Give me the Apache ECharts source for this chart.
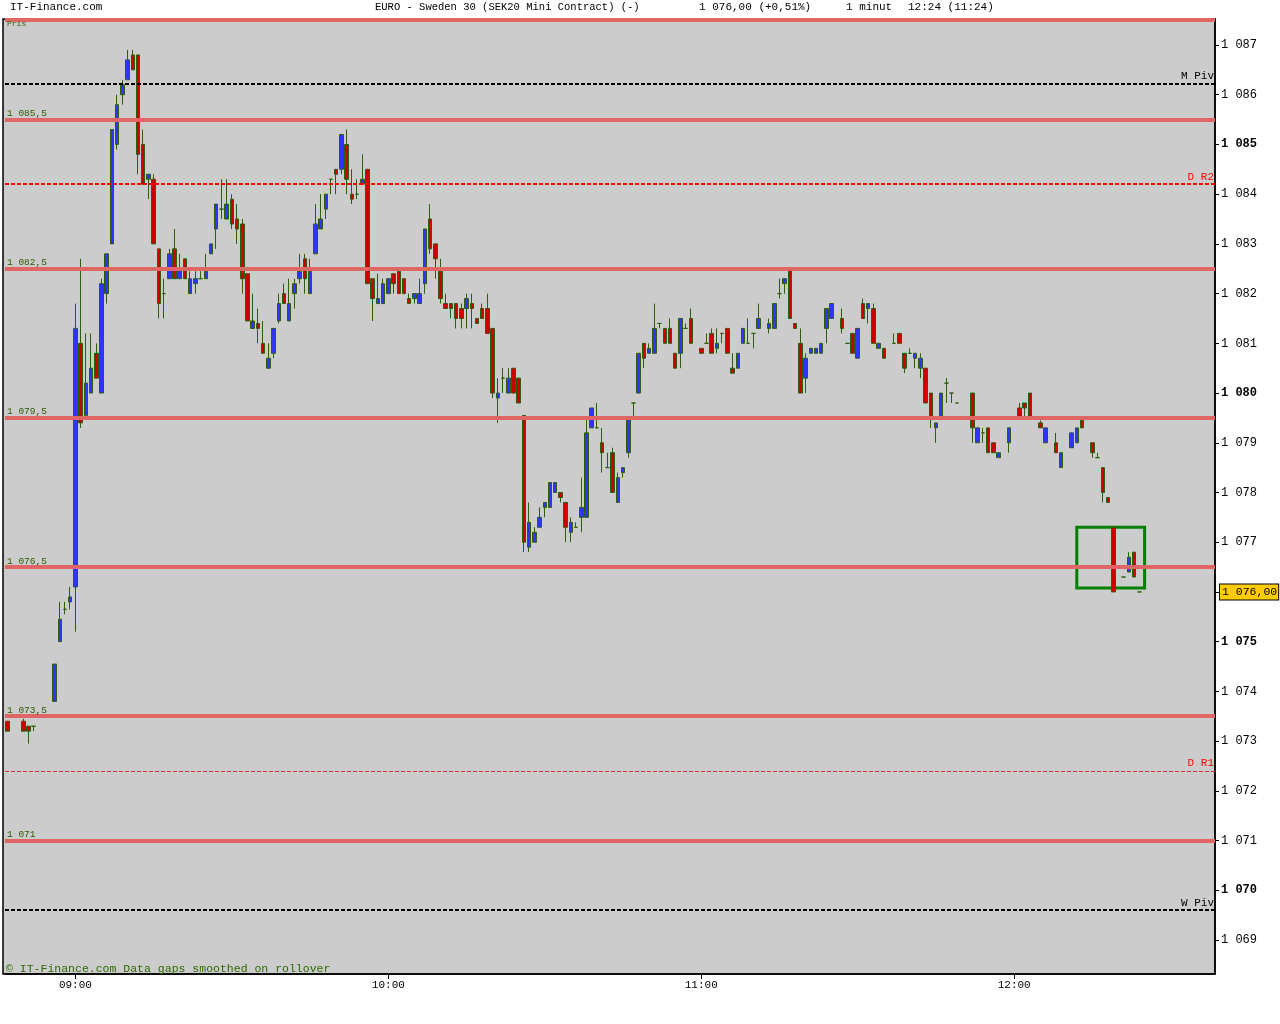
<!DOCTYPE html>
<html>
<head>
<meta charset="utf-8">
<title>EURO - Sweden 30</title>
<script src="https://cdn.jsdelivr.net/npm/echarts@6/dist/echarts.min.js"></script>
<style>
html, body { margin: 0; padding: 0; background: #ffffff; }
#chart { width: 1280px; height: 1024px; }
</style>
</head>
<body>
<div id="chart"></div>
<script>
// candles: [time, open, high, low, close]
var pre0900 = [
    ['08:47', 1073.4, 1073.4, 1073.2, 1073.2],
    ['08:50', 1073.4, 1073.45, 1073.2, 1073.2],
    ['08:51', 1073.3, 1073.3, 1072.95, 1073.2],
    ['08:52', 1073.3, 1073.3, 1073.2, 1073.3],
    ['08:56', 1073.8, 1074.55, 1073.8, 1074.55],
    ['08:57', 1075.0, 1075.8, 1075.0, 1075.45],
    ['08:58', 1075.65, 1075.8, 1075.55, 1075.65],
    ['08:59', 1075.8, 1076.1, 1075.65, 1075.9]
];
var hour09 = [
    ['09:00', 1076.1, 1081.8, 1075.2, 1081.3],
    ['09:01', 1081.0, 1082.7, 1079.3, 1079.4],
    ['09:02', 1079.55, 1081.2, 1079.55, 1080.2],
    ['09:03', 1080.0, 1081.2, 1080.0, 1080.5],
    ['09:04', 1080.8, 1081.0, 1080.3, 1080.3],
    ['09:05', 1080.0, 1082.3, 1080.0, 1082.2],
    ['09:06', 1082.0, 1082.8, 1081.8, 1082.8],
    ['09:07', 1083.0, 1085.3, 1083.0, 1085.3],
    ['09:08', 1085.0, 1086.0, 1084.9, 1085.8],
    ['09:09', 1086.0, 1086.3, 1085.8, 1086.2],
    ['09:10', 1086.3, 1086.9, 1086.3, 1086.7],
    ['09:11', 1086.8, 1086.9, 1086.5, 1086.5],
    ['09:12', 1086.8, 1086.8, 1084.4, 1084.8],
    ['09:13', 1085.0, 1085.3, 1084.2, 1084.2],
    ['09:14', 1084.3, 1084.4, 1083.9, 1084.4],
    ['09:15', 1084.3, 1084.4, 1083.0, 1083.0],
    ['09:16', 1082.9, 1082.9, 1081.5, 1081.8],
    ['09:17', 1082.0, 1082.3, 1081.5, 1082.0],
    ['09:18', 1082.3, 1082.9, 1082.3, 1082.8],
    ['09:19', 1082.9, 1083.3, 1082.3, 1082.3],
    ['09:20', 1082.3, 1082.8, 1082.3, 1082.5],
    ['09:21', 1082.7, 1082.7, 1082.3, 1082.3],
    ['09:22', 1082.0, 1082.45, 1082.0, 1082.3],
    ['09:23', 1082.2, 1082.45, 1082.0, 1082.3],
    ['09:24', 1082.3, 1082.45, 1082.3, 1082.3],
    ['09:25', 1082.3, 1082.8, 1082.3, 1082.45],
    ['09:26', 1082.8, 1083.0, 1082.8, 1083.0],
    ['09:27', 1083.3, 1083.8, 1082.9, 1083.8],
    ['09:28', 1083.7, 1084.3, 1083.5, 1083.7],
    ['09:29', 1083.5, 1084.3, 1083.5, 1083.8],
    ['09:30', 1083.9, 1084.0, 1083.3, 1083.4],
    ['09:31', 1083.5, 1083.8, 1083.0, 1083.3],
    ['09:32', 1083.4, 1083.5, 1082.0, 1082.3],
    ['09:33', 1082.4, 1082.4, 1081.45, 1081.45],
    ['09:34', 1081.3, 1082.0, 1081.3, 1081.45],
    ['09:35', 1081.4, 1081.7, 1081.0, 1081.3],
    ['09:36', 1081.0, 1081.45, 1080.8, 1080.8],
    ['09:37', 1080.5, 1081.0, 1080.5, 1080.7],
    ['09:38', 1080.8, 1081.3, 1080.7, 1081.3],
    ['09:39', 1081.45, 1082.0, 1081.4, 1081.8],
    ['09:40', 1082.0, 1082.2, 1081.8, 1081.8],
    ['09:41', 1081.45, 1082.3, 1081.45, 1081.8],
    ['09:42', 1082.0, 1082.3, 1081.7, 1082.2],
    ['09:43', 1082.3, 1082.8, 1082.2, 1082.45],
    ['09:44', 1082.7, 1082.8, 1082.0, 1082.3],
    ['09:45', 1082.0, 1082.7, 1082.0, 1082.45],
    ['09:46', 1082.8, 1083.8, 1082.8, 1083.4],
    ['09:47', 1083.3, 1084.0, 1083.3, 1083.5],
    ['09:48', 1083.7, 1084.0, 1083.5, 1084.0],
    ['09:49', 1084.3, 1084.3, 1084.0, 1084.3],
    ['09:50', 1084.5, 1084.5, 1084.0, 1084.4],
    ['09:51', 1084.5, 1085.2, 1084.4, 1085.2],
    ['09:52', 1085.0, 1085.3, 1084.0, 1084.3],
    ['09:53', 1084.0, 1084.5, 1083.8, 1083.9],
    ['09:54', 1084.0, 1084.3, 1083.9, 1084.0],
    ['09:55', 1084.2, 1084.8, 1084.2, 1084.3],
    ['09:56', 1084.5, 1084.5, 1082.2, 1082.2],
    ['09:57', 1082.3, 1082.3, 1081.45, 1081.9],
    ['09:58', 1081.8, 1082.4, 1081.8, 1081.9],
    ['09:59', 1081.8, 1082.3, 1081.8, 1082.2]
];
var hour10 = [
    ['10:00', 1082.0, 1082.3, 1082.0, 1082.3],
    ['10:01', 1082.4, 1082.4, 1082.0, 1082.2],
    ['10:02', 1082.45, 1082.5, 1082.0, 1082.0],
    ['10:03', 1082.3, 1082.3, 1082.0, 1082.0],
    ['10:04', 1081.9, 1082.0, 1081.8, 1081.8],
    ['10:05', 1081.9, 1082.0, 1081.8, 1082.0],
    ['10:06', 1081.8, 1082.3, 1081.8, 1082.0],
    ['10:07', 1082.2, 1083.3, 1082.0, 1083.3],
    ['10:08', 1083.5, 1083.8, 1082.8, 1082.9],
    ['10:09', 1083.0, 1083.0, 1082.3, 1082.7],
    ['10:10', 1082.45, 1082.7, 1081.8, 1081.9],
    ['10:11', 1081.8, 1082.0, 1081.7, 1081.7],
    ['10:12', 1081.8, 1081.8, 1081.5, 1081.7],
    ['10:13', 1081.8, 1081.8, 1081.3, 1081.5],
    ['10:14', 1081.7, 1081.8, 1081.3, 1081.5],
    ['10:15', 1081.7, 1082.0, 1081.3, 1081.9],
    ['10:16', 1081.8, 1082.0, 1081.3, 1081.7],
    ['10:17', 1081.5, 1081.5, 1081.4, 1081.4],
    ['10:18', 1081.7, 1081.8, 1081.5, 1081.5],
    ['10:19', 1081.7, 1082.0, 1081.2, 1081.2],
    ['10:20', 1081.3, 1081.3, 1079.9, 1080.0],
    ['10:21', 1079.9, 1080.3, 1079.4, 1080.0],
    ['10:22', 1080.3, 1080.5, 1080.0, 1080.3],
    ['10:23', 1080.0, 1080.5, 1080.0, 1080.3],
    ['10:24', 1080.5, 1080.5, 1080.0, 1080.0],
    ['10:25', 1080.3, 1080.3, 1079.8, 1079.8],
    ['10:26', 1079.55, 1079.55, 1076.8, 1077.0],
    ['10:27', 1076.9, 1077.8, 1076.8, 1077.4],
    ['10:28', 1077.0, 1077.3, 1077.0, 1077.2],
    ['10:29', 1077.3, 1077.7, 1077.3, 1077.5],
    ['10:30', 1077.7, 1077.8, 1077.5, 1077.8],
    ['10:31', 1077.7, 1078.2, 1077.7, 1078.2],
    ['10:32', 1078.0, 1078.2, 1078.0, 1078.2],
    ['10:33', 1078.0, 1078.0, 1077.8, 1077.9],
    ['10:34', 1077.8, 1077.8, 1077.0, 1077.3],
    ['10:35', 1077.2, 1077.5, 1077.0, 1077.4],
    ['10:36', 1077.3, 1077.4, 1077.3, 1077.3],
    ['10:37', 1077.5, 1078.3, 1077.2, 1077.7],
    ['10:38', 1077.5, 1079.5, 1077.5, 1079.2],
    ['10:39', 1079.3, 1079.7, 1079.3, 1079.7],
    ['10:40', 1079.3, 1079.8, 1079.3, 1079.3],
    ['10:41', 1079.0, 1079.3, 1078.4, 1078.8],
    ['10:42', 1078.5, 1078.8, 1078.5, 1078.5],
    ['10:43', 1078.8, 1078.9, 1078.0, 1078.0],
    ['10:44', 1077.8, 1078.4, 1077.8, 1078.3],
    ['10:45', 1078.4, 1078.5, 1078.3, 1078.5],
    ['10:46', 1078.8, 1079.5, 1078.7, 1079.5],
    ['10:47', 1079.8, 1079.8, 1079.5, 1079.8],
    ['10:48', 1080.0, 1080.8, 1080.0, 1080.8],
    ['10:49', 1081.0, 1081.0, 1080.5, 1080.7],
    ['10:50', 1080.8, 1081.0, 1080.8, 1080.9],
    ['10:51', 1080.8, 1081.8, 1080.8, 1081.3],
    ['10:52', 1081.4, 1081.4, 1081.3, 1081.4],
    ['10:53', 1081.3, 1081.3, 1081.0, 1081.0],
    ['10:54', 1081.3, 1081.5, 1081.0, 1081.0],
    ['10:55', 1080.8, 1080.8, 1080.5, 1080.5],
    ['10:56', 1080.8, 1081.5, 1080.5, 1081.5],
    ['10:57', 1081.3, 1081.4, 1081.3, 1081.3],
    ['10:58', 1081.5, 1081.7, 1081.0, 1081.0]
];
var hour11 = [
    ['11:00', 1080.9, 1080.9, 1080.8, 1080.8],
    ['11:01', 1081.0, 1081.2, 1081.0, 1081.0],
    ['11:02', 1081.2, 1081.3, 1080.8, 1080.8],
    ['11:03', 1080.9, 1081.3, 1080.8, 1081.0],
    ['11:04', 1081.2, 1081.2, 1081.0, 1081.2],
    ['11:05', 1081.3, 1081.3, 1080.8, 1080.8],
    ['11:06', 1080.5, 1080.8, 1080.4, 1080.4],
    ['11:07', 1080.5, 1080.8, 1080.5, 1080.8],
    ['11:08', 1081.0, 1081.3, 1081.0, 1081.3],
    ['11:09', 1081.0, 1081.5, 1081.0, 1081.0],
    ['11:10', 1081.2, 1081.2, 1080.9, 1081.2],
    ['11:11', 1081.3, 1081.8, 1081.3, 1081.5],
    ['11:13', 1081.3, 1081.5, 1081.2, 1081.4],
    ['11:14', 1081.3, 1081.8, 1081.3, 1081.8],
    ['11:15', 1082.0, 1082.3, 1081.9, 1082.0],
    ['11:16', 1082.2, 1082.3, 1082.0, 1082.3],
    ['11:17', 1082.5, 1082.5, 1081.5, 1081.5],
    ['11:18', 1081.4, 1081.4, 1081.3, 1081.3],
    ['11:19', 1081.0, 1081.3, 1080.0, 1080.0],
    ['11:20', 1080.3, 1080.8, 1080.0, 1080.7],
    ['11:21', 1080.8, 1080.9, 1080.8, 1080.9],
    ['11:22', 1080.8, 1080.9, 1080.8, 1080.9],
    ['11:23', 1080.8, 1081.0, 1080.8, 1081.0],
    ['11:24', 1081.3, 1081.7, 1081.0, 1081.7],
    ['11:25', 1081.5, 1081.8, 1081.5, 1081.8],
    ['11:27', 1081.5, 1081.7, 1081.2, 1081.3],
    ['11:28', 1081.0, 1081.0, 1081.0, 1081.0],
    ['11:29', 1081.2, 1081.2, 1080.8, 1080.8],
    ['11:30', 1080.7, 1081.3, 1080.7, 1081.3],
    ['11:31', 1081.8, 1081.9, 1081.5, 1081.5],
    ['11:32', 1081.7, 1081.8, 1081.4, 1081.8],
    ['11:33', 1081.7, 1081.8, 1081.0, 1081.0],
    ['11:34', 1080.9, 1081.0, 1080.9, 1081.0],
    ['11:35', 1080.9, 1080.9, 1080.7, 1080.7],
    ['11:37', 1081.0, 1081.2, 1081.0, 1081.0],
    ['11:38', 1081.2, 1081.2, 1081.0, 1081.0],
    ['11:39', 1080.8, 1080.8, 1080.4, 1080.5],
    ['11:40', 1080.8, 1080.9, 1080.8, 1080.8],
    ['11:41', 1080.7, 1080.8, 1080.5, 1080.8],
    ['11:42', 1080.5, 1080.8, 1080.3, 1080.7],
    ['11:43', 1080.5, 1080.5, 1079.8, 1079.8],
    ['11:44', 1080.0, 1080.0, 1079.3, 1079.5],
    ['11:45', 1079.3, 1079.4, 1079.0, 1079.4],
    ['11:46', 1079.5, 1080.0, 1079.5, 1080.0],
    ['11:47', 1080.2, 1080.3, 1079.8, 1080.2],
    ['11:48', 1080.0, 1080.0, 1079.8, 1080.0],
    ['11:49', 1079.8, 1079.8, 1079.8, 1079.8],
    ['11:52', 1080.0, 1080.0, 1079.0, 1079.3],
    ['11:53', 1079.0, 1079.3, 1079.0, 1079.3],
    ['11:54', 1079.2, 1079.3, 1079.0, 1079.2],
    ['11:55', 1079.3, 1079.3, 1078.8, 1078.8],
    ['11:56', 1079.0, 1079.0, 1078.8, 1078.8],
    ['11:57', 1078.7, 1078.8, 1078.7, 1078.8],
    ['11:59', 1079.0, 1079.3, 1078.8, 1079.3]
];
var hour12 = [
    ['12:01', 1079.7, 1079.8, 1079.5, 1079.5],
    ['12:02', 1079.8, 1079.8, 1079.5, 1079.7],
    ['12:03', 1080.0, 1080.0, 1079.5, 1079.5],
    ['12:05', 1079.4, 1079.45, 1079.3, 1079.3],
    ['12:06', 1079.0, 1079.3, 1079.0, 1079.3],
    ['12:08', 1079.0, 1079.2, 1078.8, 1078.8],
    ['12:09', 1078.5, 1078.8, 1078.5, 1078.8],
    ['12:11', 1078.9, 1079.2, 1078.9, 1079.2],
    ['12:12', 1079.0, 1079.3, 1079.0, 1079.3],
    ['12:13', 1079.45, 1079.45, 1079.3, 1079.3],
    ['12:15', 1079.0, 1079.0, 1078.7, 1078.8],
    ['12:16', 1078.7, 1078.8, 1078.7, 1078.7],
    ['12:17', 1078.5, 1078.5, 1077.8, 1078.0],
    ['12:18', 1077.9, 1077.9, 1077.8, 1077.8],
    ['12:19', 1077.3, 1077.3, 1076.0, 1076.0],
    ['12:21', 1076.3, 1076.3, 1076.3, 1076.3],
    ['12:22', 1076.4, 1076.8, 1076.4, 1076.7],
    ['12:23', 1076.8, 1076.8, 1076.3, 1076.3],
    ['12:24', 1076.0, 1076.0, 1076.0, 1076.0]
];

// horizontal levels
var bandLevels = [1087.5, 1085.5, 1082.5, 1079.5, 1076.5, 1073.5, 1071];
var pivotNames = ['M Piv', 'D R2', 'D R1', 'W Piv'];
var pivotValues = [1086.23, 1084.2, 1072.4, 1069.6];
var pivotColors = ['#000000', '#ff0000', '#e03030', '#000000'];
var pivotWidths = [2, 2, 1, 2];
var yTickValues = [1069, 1070, 1071, 1072, 1073, 1074, 1075, 1076, 1077, 1078,
    1079, 1080, 1081, 1082, 1083, 1084, 1085, 1086, 1087];
var lastPrice = 1076.0;
var boxFrom = ['12:12', 1077.3];
var boxTo = ['12:25', 1076.08];

var MONO = '"Liberation Mono", "DejaVu Sans Mono", monospace';

// minute categories 08:47 .. 12:38
function pad(n) { return (n < 10 ? '0' : '') + n; }
var minutes = [];
for (var m = 8 * 60 + 47; m <= 12 * 60 + 38; m++) {
    minutes.push(pad(Math.floor(m / 60)) + ':' + pad(m % 60));
}
var byTime = {};
pre0900.concat(hour09, hour10, hour11, hour12).forEach(function (r) {
    byTime[r[0]] = [r[1], r[4], r[3], r[2]]; // open, close, low, high
});
var candleData = minutes.map(function (t) {
    return byTime[t] || ['-', '-', '-', '-'];
});

function fmtPx(v, dec) {
    var s = v.toFixed(dec).replace('.', ',');
    return s.replace(/^(\d)(\d{3})/, '$1 $2');
}

var lineData = [];
bandLevels.forEach(function (v, i) {
    lineData.push({
        yAxis: v,
        lineStyle: { color: '#e06565', width: 4, type: 'solid' },
        label: {
            show: i > 0,
            position: 'insideStartTop',
            distance: [2, 1],
            formatter: fmtPx(v, v % 1 ? 1 : 0),
            color: '#2e5a00',
            fontFamily: MONO,
            fontSize: 9.5
        }
    });
});
pivotValues.forEach(function (v, i) {
    lineData.push({
        yAxis: v,
        lineStyle: { color: pivotColors[i], width: pivotWidths[i], type: [4, 2] },
        label: {
            show: true,
            position: 'insideEndTop',
            distance: [1, 2],
            formatter: pivotNames[i],
            color: pivotColors[i] === '#000000' ? '#000000' : '#ff0000',
            fontFamily: MONO,
            fontSize: 11
        }
    });
});

// last price tag on the right axis
var priceTag = [{
    yAxis: lastPrice,
    lineStyle: { color: 'rgba(0,0,0,0)', width: 0 },
    label: {
        show: true,
        position: 'end',
        distance: 5,
        formatter: fmtPx(lastPrice, 2),
        color: '#000000',
        backgroundColor: '#ffcc00',
        borderColor: '#000000',
        borderWidth: 1,
        padding: [2, 1, 1, 2],
        fontFamily: MONO,
        fontSize: 11.5
    }
}];

var chart = echarts.init(document.getElementById('chart'));
chart.setOption({
    animation: false,
    backgroundColor: '#ffffff',
    graphic: [
        {
            type: 'rect', z: -10,
            shape: { x: 3, y: 19, width: 1212, height: 955 },
            style: { fill: '#cccccc', stroke: '#000000', lineWidth: 1.5 }
        },
        { type: 'text', left: 10, top: 2, style: { text: 'IT-Finance.com', font: '11px ' + MONO, fill: '#000' } },
        { type: 'text', left: 375, top: 2, style: { text: 'EURO - Sweden 30 (SEK20 Mini Contract) (-)', font: '10.5px ' + MONO, fill: '#000' } },
        { type: 'text', left: 699, top: 2, style: { text: '1 076,00 (+0,51%)', font: '11px ' + MONO, fill: '#000' } },
        { type: 'text', left: 846, top: 2, style: { text: '1 minut', font: '11px ' + MONO, fill: '#000' } },
        { type: 'text', left: 908, top: 2, style: { text: '12:24 (11:24)', font: '11px ' + MONO, fill: '#000' } },
        { type: 'text', left: 7, top: 20, z: 10, style: { text: 'Pris', font: '8px ' + MONO, fill: '#2e5a00' } },
        { type: 'text', left: 6, top: 963, z: 10, style: { text: '\u00a9 IT-Finance.com Data gaps smoothed on rollover', font: '11.5px ' + MONO, fill: '#2e6a00' } }
    ],
    grid: { left: 5, right: 65, top: 19, bottom: 50 },
    xAxis: {
        type: 'category',
        data: minutes,
        boundaryGap: true,
        axisLine: { show: true, lineStyle: { color: '#000', width: 1.5 } },
        axisTick: {
            show: true,
            alignWithLabel: true,
            length: 5,
            lineStyle: { color: '#000' },
            interval: function (idx, val) { return /:00$/.test(val); }
        },
        axisLabel: {
            interval: function (idx, val) { return /:00$/.test(val); },
            color: '#000',
            fontFamily: MONO,
            fontSize: 11,
            margin: 6
        },
        splitLine: { show: false }
    },
    yAxis: {
        type: 'value',
        position: 'right',
        min: 1068.316,
        max: 1087.523,
        axisLine: { show: true, lineStyle: { color: '#000', width: 1.5 } },
        axisTick: {
            show: true,
            length: 4,
            lineStyle: { color: '#000' },
            customValues: yTickValues
        },
        axisLabel: {
            customValues: yTickValues,
            margin: 6,
            fontFamily: MONO,
            fontSize: 12,
            color: '#000',
            formatter: function (v) {
                var s = fmtPx(v, 0);
                return Math.round(v) % 5 === 0 ? '{b|' + s + '}' : s;
            },
            rich: {
                b: { fontFamily: MONO, fontSize: 12, fontWeight: 'bold', color: '#000' }
            }
        },
        splitLine: { show: false }
    },
    series: [{
        type: 'candlestick',
        data: candleData,
        barWidth: 4,
        itemStyle: {
            color: '#3333ff',
            color0: '#cc0000',
            borderColor: '#2d5e0e',
            borderColor0: '#2d5e0e',
            borderWidth: 1
        },
        markLine: {
            silent: true,
            symbol: ['none', 'none'],
            data: lineData
        },
        markArea: {
            silent: true,
            itemStyle: { color: 'rgba(0,0,0,0)', borderColor: '#008000', borderWidth: 3 },
            data: [[
                { xAxis: boxFrom[0], yAxis: boxFrom[1] },
                { xAxis: boxTo[0], yAxis: boxTo[1] }
            ]]
        }
    }, {
        type: 'line',
        data: [],
        silent: true,
        markLine: {
            silent: true,
            symbol: ['none', 'none'],
            data: priceTag
        }
    }]
});
</script>
</body>
</html>
